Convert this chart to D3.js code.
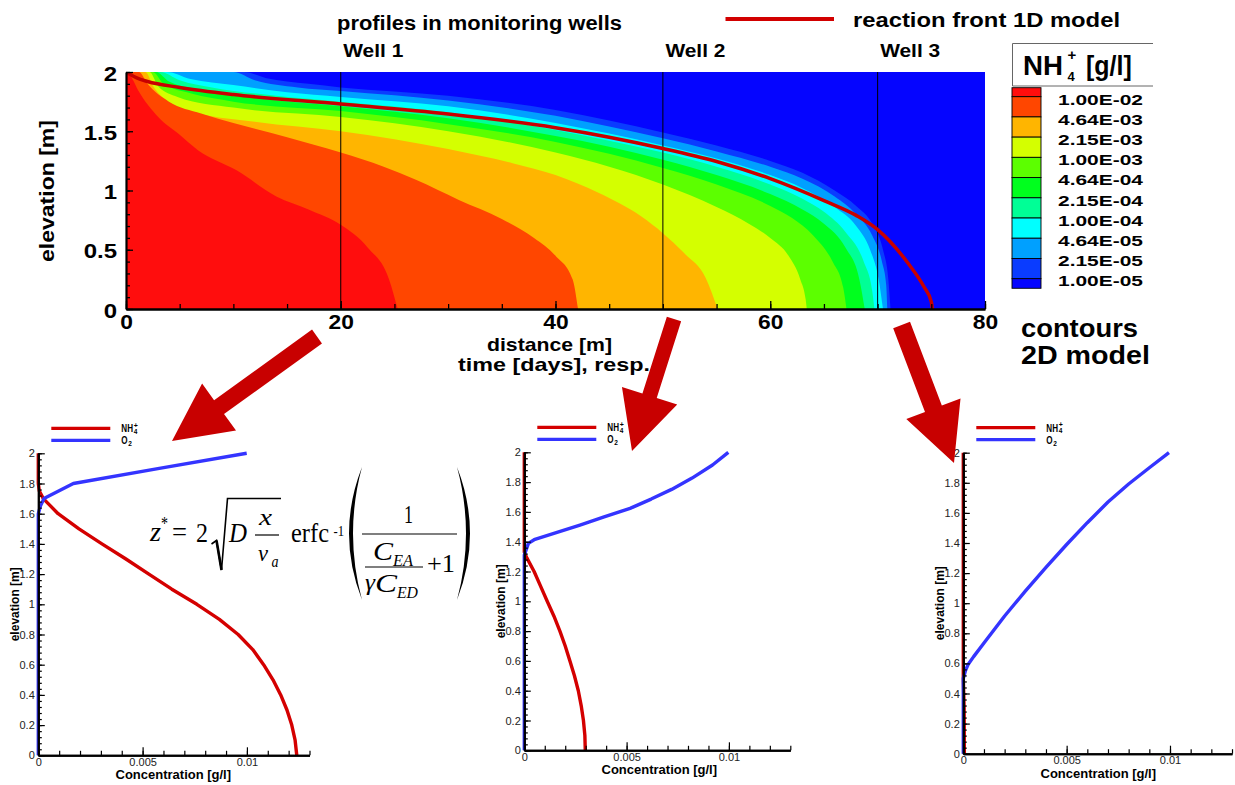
<!DOCTYPE html>
<html><head><meta charset="utf-8">
<script src="https://cdn.jsdelivr.net/npm/d3@7"></script>
<style>body{margin:0;background:#fff;} svg{display:block;font-family:"Liberation Sans",Arial,Helvetica,sans-serif;}</style>
</head><body><svg id="c" width="1235" height="785"></svg>
<script>
// ================= DATA =================
const levelLabels = ["1.00E-02","4.64E-03","2.15E-03","1.00E-03","4.64E-04","2.15E-04","1.00E-04","4.64E-05","2.15E-05","1.00E-05"];
const bandColors = ["#ff0d0d","#ff4600","#ffb500","#d4ff00","#5cff00","#00ff1e","#00ff96","#00ffff","#00a0ff","#0a3cff","#0505ff"];
// contour boundaries [distance m, elevation m]
const contour1 = [[0,2],[0.4,1.97],[1.1,1.85],[3,1.62],[5,1.47],[6.7,1.34],[10.3,1.17],[14,0.95],[17,0.84],[20,0.71],[22.5,0.52],[24.5,0.25],[25.3,0]];
const contour2 = [[1.2,2],[2,1.9],[4,1.75],[7,1.65],[10,1.57],[15,1.45],[20,1.32],[24,1.2],[27,1.09],[31,0.92],[35,0.76],[38,0.6],[40,0.45],[41.6,0.25],[42.1,0]];
const contour3 = [[1.8,2],[2.6,1.87],[5.6,1.68],[12,1.58],[20,1.5],[30,1.35],[36,1.23],[40,1.13],[44,0.98],[48,0.78],[50,0.64],[52,0.47],[54,0.26],[55.1,0]];
const contour4 = [[2.2,2],[3,1.88],[4.8,1.79],[10,1.7],[20,1.62],[30,1.5],[40,1.32],[45,1.2],[50,1.05],[55,0.86],[58,0.72],[60,0.6],[61.7,0.45],[62.8,0.25],[63.3,0.08],[63.4,0]];
const contour5 = [[2.5,2],[3.5,1.9],[6,1.82],[10,1.75],[20,1.67],[30,1.56],[40,1.41],[45,1.31],[50,1.19],[55,1.05],[60,0.87],[62,0.77],[64,0.62],[65.8,0.4],[66.8,0.18],[67.1,0]];
const contour6 = [[2.8,2],[4,1.92],[7,1.85],[12,1.78],[20,1.71],[30,1.61],[40,1.46],[45,1.37],[50,1.26],[55,1.13],[60,0.97],[63,0.84],[65,0.72],[67,0.52],[68.3,0.25],[68.8,0]];
const contour7 = [[3.2,2],[5,1.93],[8,1.87],[14,1.8],[20,1.75],[30,1.66],[40,1.51],[45,1.42],[50,1.32],[55,1.2],[60,1.05],[63,0.93],[65,0.82],[67,0.65],[68.7,0.4],[69.5,0.15],[69.7,0]];
const contour8 = [[3.8,2],[6,1.94],[10,1.89],[15,1.83],[20,1.79],[30,1.71],[40,1.57],[45,1.48],[50,1.38],[55,1.27],[60,1.13],[63,1.02],[66,0.86],[68,0.7],[69.3,0.5],[70.1,0.25],[70.5,0]];
const contour9 = [[10,2],[12,1.93],[16,1.87],[20,1.84],[30,1.76],[40,1.63],[45,1.54],[50,1.44],[55,1.33],[60,1.2],[63,1.1],[66,0.95],[68,0.8],[69.5,0.62],[70.4,0.4],[70.8,0.2],[70.9,0]];
const contour10 = [[11,2],[13,1.95],[17,1.9],[20,1.87],[30,1.8],[40,1.68],[45,1.59],[50,1.49],[55,1.38],[60,1.25],[63,1.15],[66,1.0],[68,0.87],[69.5,0.72],[70.5,0.5],[71,0.25],[71.2,0]];
const contours = [contour1,contour2,contour3,contour4,contour5,contour6,contour7,contour8,contour9,contour10];
const reactionFront = [[0,2],[1,1.95],[2,1.92],[5,1.87],[10,1.81],[20,1.73],[30,1.645],[40,1.53],[45,1.45],[50,1.355],[55,1.245],[60,1.1],[65,0.915],[68,0.79],[70,0.67],[72.8,0.39],[74.3,0.19],[75,0.06],[75.1,0]];
const wellPositions = [20,50,70];
const wellLabels = ["Well 1","Well 2","Well 3"];
const distTicks = [0,20,40,60,80];
const elevTicks = [0,0.5,1,1.5,2];
// profiles [concentration g/l, elevation m]
const well1NH4 = [[0.01239,0],[0.01231,0.1],[0.01215,0.2],[0.01192,0.3],[0.01162,0.4],[0.01125,0.5],[0.0108,0.6],[0.01028,0.7],[0.00958,0.8],[0.00868,0.9],[0.0076,1.0],[0.0064,1.1],[0.0053,1.2],[0.0042,1.3],[0.00305,1.4],[0.00195,1.5],[0.00095,1.6],[0.00024,1.7],[0.00005,1.75],[0,1.8],[0,2]];
const well1O2 = [[0,0],[0,1.6],[0.0001,1.65],[0.00027,1.7],[0.00168,1.8],[0.0058,1.9],[0.00999,2.0]];
const well2NH4 = [[0.00298,0],[0.00296,0.1],[0.00289,0.2],[0.00278,0.3],[0.00264,0.4],[0.00245,0.5],[0.00223,0.6],[0.002,0.7],[0.00174,0.8],[0.00145,0.9],[0.00112,1.0],[0.0008,1.1],[0.00048,1.2],[0.00013,1.29],[0,1.33],[0,2]];
const well2O2 = [[0,0],[0,1.31],[0.0002,1.389],[0.00052,1.416],[0.0016,1.463],[0.00272,1.512],[0.0039,1.566],[0.00517,1.624],[0.0062,1.686],[0.0072,1.751],[0.0082,1.827],[0.0092,1.915],[0.00997,2.0]];
const well3NH4 = [[0.00005,0],[0.00004,0.3],[0,0.5],[0,2]];
const well3O2 = [[0,0],[0,0.5],[0.0001,0.55],[0.00024,0.595],[0.0005,0.645],[0.001,0.735],[0.0015,0.825],[0.002,0.915],[0.003,1.08],[0.004,1.238],[0.005,1.39],[0.006,1.535],[0.007,1.672],[0.008,1.792],[0.009,1.9],[0.00995,2.0]];
const concTicks = [0,0.005,0.01];
const profileElevTicks = [0,0.2,0.4,0.6,0.8,1,1.2,1.4,1.6,1.8,2];

// ================= DRAW =================
const svg = d3.select("#c");
function T(p, s, x, y, o={}) {
  const t = p.append("text").attr("x",x).attr("y",y).text(s)
    .attr("font-size", o.fs||12).attr("font-weight", o.fw||"normal")
    .attr("text-anchor", o.anchor||"start").attr("fill", o.fill||"#000");
  if (o.font) t.attr("font-family", o.font);
  if (o.italic) t.attr("font-style","italic");
  if (o.w) t.attr("textLength", o.w).attr("lengthAdjust","spacingAndGlyphs");
  if (o.rot) t.attr("transform",`rotate(${o.rot},${x},${y})`);
  return t;
}
function stretch(sel, k) {
  sel.each(function(){ const l=this.getComputedTextLength(); d3.select(this).attr("textLength", l*k).attr("lengthAdjust","spacingAndGlyphs"); });
}

// ---- top contour plot ----
const tx = d3.scaleLinear().domain([0,80]).range([126,985]);
const ty = d3.scaleLinear().domain([0,2]).range([309,72]);
svg.append("clipPath").attr("id","clipTop").append("rect")
  .attr("x",tx(0)).attr("y",ty(2)).attr("width",tx(80)-tx(0)).attr("height",ty(0)-ty(2));
const gTop = svg.append("g").attr("clip-path","url(#clipTop)");
gTop.append("rect").attr("x",tx(0)).attr("y",ty(2)).attr("width",tx(80)-tx(0)).attr("height",ty(0)-ty(2)).attr("fill",bandColors[10]);
const bandArea = d3.area().x(d=>tx(d[0])).y0(ty(0)).y1(d=>ty(d[1])).curve(d3.curveMonotoneX);
for (let k=contours.length-1;k>=0;k--) {
  const b = contours[k];
  const pts = b[0][0] > 0 ? [[0,2]].concat(b) : b;
  gTop.append("path").attr("d", bandArea(pts)).attr("fill", bandColors[k]);
}
wellPositions.forEach((w,i)=>{
  gTop.append("line").attr("x1",tx(w)).attr("x2",tx(w)).attr("y1",ty(0)).attr("y2",ty(2)).attr("stroke","#000").attr("stroke-width",1);
});
gTop.append("path").attr("d", d3.line().x(d=>tx(d[0])).y(d=>ty(d[1])).curve(d3.curveMonotoneX)(reactionFront))
  .attr("fill","none").attr("stroke","#c80000").attr("stroke-width",3.5);

// axes
const axL = svg.append("g").attr("transform",`translate(${tx(0)},0)`)
  .call(d3.axisLeft(ty).tickValues(ty.ticks(20)).tickSize(-4).tickSizeOuter(0).tickFormat(""));
const axL2 = svg.append("g").attr("transform",`translate(${tx(0)},0)`)
  .call(d3.axisLeft(ty).tickValues(elevTicks).tickSize(-7).tickSizeOuter(0).tickPadding(9).tickFormat(d3.format("")));
const axB = svg.append("g").attr("transform",`translate(0,${ty(0)})`)
  .call(d3.axisBottom(tx).tickValues(tx.ticks(16)).tickSize(-5).tickSizeOuter(0).tickFormat(""));
const axB2 = svg.append("g").attr("transform",`translate(0,${ty(0)})`)
  .call(d3.axisBottom(tx).tickValues(distTicks).tickSize(-8).tickSizeOuter(0).tickPadding(6).tickFormat(d3.format("")));
[axL,axL2,axB,axB2].forEach(a=>{ a.selectAll(".tick line").attr("stroke","#000").attr("stroke-width",1.3); a.select(".domain").attr("stroke","#000"); });
axL2.select(".domain").attr("stroke-width",2.2);
axB2.select(".domain").attr("stroke-width",2.6);
axL2.selectAll("text").attr("font-size",20);
axB2.selectAll("text").attr("font-size",19.5);
[axL2,axB2].forEach(a=>a.selectAll("text").attr("font-weight","bold").attr("fill","#000").attr("font-family","Liberation Sans, Arial, sans-serif"));
axL2.selectAll("text").attr("dy","0.4em");
stretch(axL2.selectAll("text"),1.2);
stretch(axB2.selectAll("text"),1.17);

// top texts
T(svg,"elevation [m]",54,191,{fs:21,fw:"bold",anchor:"middle",rot:-90,w:142});
T(svg,"distance [m]",549.5,350.5,{fs:19,fw:"bold",anchor:"middle",w:125});
T(svg,"time [days], resp.",554,371.3,{fs:18.5,fw:"bold",anchor:"middle",w:192});
T(svg,"profiles in monitoring wells",337,30,{fs:20,fw:"bold",w:285});
svg.append("line").attr("x1",725.5).attr("x2",834).attr("y1",19).attr("y2",19).attr("stroke","#d20000").attr("stroke-width",3.8);
T(svg,"reaction front 1D model",853,27,{fs:20,fw:"bold",w:267});
wellPositions.forEach((w,i)=>T(svg,wellLabels[i],tx(w)+2.5,57,{fs:19,fw:"bold",w:60}));
T(svg,"contours",1021,337,{fs:25,fw:"bold",w:117});
T(svg,"2D model",1021,363.5,{fs:25,fw:"bold",w:129});

// colour legend
const lg = svg.append("g");
lg.append("path").attr("d","M1153,43.5H1012.5V86H1153").attr("fill","none").attr("stroke","#666").attr("stroke-width",1);
T(lg,"NH",1023,75,{fs:27,fw:"bold",w:40});
T(lg,"+",1067.5,59.5,{fs:15,fw:"bold"});
T(lg,"4",1067.5,80.5,{fs:13,fw:"bold"});
T(lg,"[g/l]",1086,75,{fs:27,fw:"bold",w:45.7});
const edges = [87.7, 96.7];
for (let i=0;i<9;i++) edges.push(edges[edges.length-1]+20.22);
edges.push(edges[edges.length-1]+9.6);
bandColors.forEach((c,i)=>{
  lg.append("rect").attr("x",1012).attr("y",edges[i]).attr("width",29).attr("height",edges[i+1]-edges[i])
    .attr("fill",c).attr("stroke","#000").attr("stroke-width",0.9);
});
levelLabels.forEach((s,i)=>{
  T(lg,s,1058,edges[i+1]+2.3,{fs:15.5,fw:"bold",w:85}).attr("dominant-baseline","central");
});

// ---- bottom profile charts ----
const profileLayout = [
  {xr:[38.3,309.5], yr:[755.3,453.3], nh4:well1NH4, o2:well1O2},
  {xr:[524.3,790.3], yr:[750.3,452.3], nh4:well2NH4, o2:well2O2},
  {xr:[963.3,1232], yr:[753.7,452.7], nh4:well3NH4, o2:well3O2}
];
profileLayout.forEach(P=>{
  const x = d3.scaleLinear().domain([0,0.013]).range(P.xr);
  const y = d3.scaleLinear().domain([0,2]).range(P.yr);
  const g = svg.append("g");
  const ln = d3.line().x(d=>x(d[0])).y(d=>y(d[1]));
  g.append("path").attr("d",ln(P.nh4)).attr("fill","none").attr("stroke","#d40000").attr("stroke-width",3.4).attr("stroke-linejoin","round");
  g.append("path").attr("d",ln(P.o2)).attr("fill","none").attr("stroke","#3434ff").attr("stroke-width",3.4).attr("stroke-linejoin","round");
  const minorY = d3.range(51).map(i=>i*0.04);
  const minorX = d3.range(14).map(i=>i*0.001);
  const a1 = g.append("g").attr("transform",`translate(${P.xr[0]},0)`).call(d3.axisLeft(y).tickValues(minorY).tickSize(-3.5).tickSizeOuter(0).tickFormat(""));
  const a2 = g.append("g").attr("transform",`translate(${P.xr[0]},0)`).call(d3.axisLeft(y).tickValues(profileElevTicks).tickSize(-6.5).tickSizeOuter(0).tickPadding(3.5).tickFormat(d=>d3.format("")(+d.toFixed(1))));
  const a3 = g.append("g").attr("transform",`translate(0,${P.yr[0]})`).call(d3.axisBottom(x).tickValues(minorX).tickSize(-4.5).tickSizeOuter(0).tickFormat(""));
  const a4 = g.append("g").attr("transform",`translate(0,${P.yr[0]})`).call(d3.axisBottom(x).tickValues(concTicks).tickSize(-8).tickSizeOuter(0).tickPadding(3).tickFormat(d=>d===0?"0":String(d)));
  [a1,a2,a3,a4].forEach(a=>{ a.selectAll(".tick line").attr("stroke","#000").attr("stroke-width",1.2); a.select(".domain").attr("stroke","#000").attr("stroke-width",2); });
  [a2,a4].forEach(a=>a.selectAll("text").attr("font-size",11).attr("fill","#222").attr("font-family","Liberation Sans, Arial, sans-serif"));
  T(g,"Concentration [g/l]",P.xr[0]+135,P.yr[0]+24,{fs:13,fw:"bold",anchor:"middle"});
  T(g,"elevation [m]",P.xr[0]-19.5,y(1),{fs:12,fw:"bold",anchor:"middle",rot:-90});
  // legend
  const ly = P.yr[1]-25, lx = P.xr[0];
  g.append("line").attr("x1",lx+13).attr("x2",lx+72).attr("y1",ly).attr("y2",ly).attr("stroke","#d40000").attr("stroke-width",3.2);
  g.append("line").attr("x1",lx+13).attr("x2",lx+72).attr("y1",ly+12).attr("y2",ly+12).attr("stroke","#3434ff").attr("stroke-width",3.2);
  T(g,"NH",lx+83,ly+3.8,{fs:10,fw:"bold",w:11.7});
  T(g,"+",lx+95.5,ly-0.5,{fs:7,fw:"bold"});
  T(g,"4",lx+95.5,ly+5.5,{fs:6.5,fw:"bold"});
  T(g,"O",lx+83,ly+15.8,{fs:10,fw:"bold",w:6.3});
  T(g,"2",lx+90,ly+18,{fs:6.5,fw:"bold"});
});

// ---- formula ----
const F = svg.append("g").attr("font-family","Liberation Serif, Times New Roman, serif");
const FI = {font:"Liberation Serif, Times New Roman, serif", italic:true};
const FN = {font:"Liberation Serif, Times New Roman, serif"};
T(F,"z",150,541,{...FI,fs:28,w:11});
T(F,"*",161,530,{...FN,fs:18,w:7});
T(F,"=",172,541,{...FN,fs:28,w:15});
T(F,"2",196,541.5,{...FN,fs:28,w:12});
F.append("path").attr("d","M211.5,544 L216.5,540.5 L221.5,570 L227.5,498.5 L281,498.5").attr("fill","none").attr("stroke","#000").attr("stroke-width",1.6);
F.append("path").attr("d","M216.5,540.5 L221.5,570").attr("stroke","#000").attr("stroke-width",2.6);
T(F,"D",229,541.5,{...FI,fs:28,w:18});
T(F,"x",259,525,{...FI,fs:24,w:13});
F.append("line").attr("x1",255).attr("x2",279).attr("y1",535).attr("y2",535).attr("stroke","#000").attr("stroke-width",1.2);
T(F,"v",258,561,{...FI,fs:24,w:10});
T(F,"a",271.5,566.5,{...FI,fs:16,w:7});
T(F,"erfc",291,541.5,{...FN,fs:28,w:38});
T(F,"-1",333.5,536,{...FN,fs:14,w:10.5});
F.append("path").attr("d","M362,467 Q336,533.5 362,600 Q344,533.5 362,467 Z").attr("fill","#000");
F.append("path").attr("d","M457,467 Q483,533.5 457,600 Q475,533.5 457,467 Z").attr("fill","#000");
T(F,"1",404,523,{...FN,fs:26,w:9});
F.append("line").attr("x1",362).attr("x2",457).attr("y1",534).attr("y2",534).attr("stroke","#000").attr("stroke-width",1.2);
T(F,"C",373,560,{...FI,fs:26,w:20});
T(F,"EA",393,566,{...FI,fs:16,w:20});
F.append("line").attr("x1",365).attr("x2",423).attr("y1",567).attr("y2",567).attr("stroke","#000").attr("stroke-width",1.2);
T(F,"γ",365,590,{...FI,fs:24,w:10});
T(F,"C",375,592,{...FI,fs:26,w:22});
T(F,"ED",397,598,{...FI,fs:16,w:21});
T(F,"+1",427,572,{...FN,fs:26,w:28});

// ---- arrows (annotations) ----
const arrows = [
  {tail:[317,336.5], tip:[172,441], sw:17},
  {tail:[674,319], tip:[632,451], sw:15},
  {tail:[901.6,325], tip:[954,463], sw:18}
];
arrows.forEach(A=>{
  const dx=A.tip[0]-A.tail[0], dy=A.tip[1]-A.tail[1], L=Math.hypot(dx,dy);
  const ux=dx/L, uy=dy/L, px=-uy, py=ux;
  const hl=58, hw=29, sw=A.sw/2;
  const bx=A.tip[0]-ux*hl, by=A.tip[1]-uy*hl;
  const pts=[
    [A.tail[0]+px*sw,A.tail[1]+py*sw],[bx+px*sw,by+py*sw],[bx+px*hw,by+py*hw],A.tip,
    [bx-px*hw,by-py*hw],[bx-px*sw,by-py*sw],[A.tail[0]-px*sw,A.tail[1]-py*sw]];
  svg.append("polygon").attr("points",pts.map(p=>p.join(",")).join(" ")).attr("fill","#c80000");
});
</script></body></html>
